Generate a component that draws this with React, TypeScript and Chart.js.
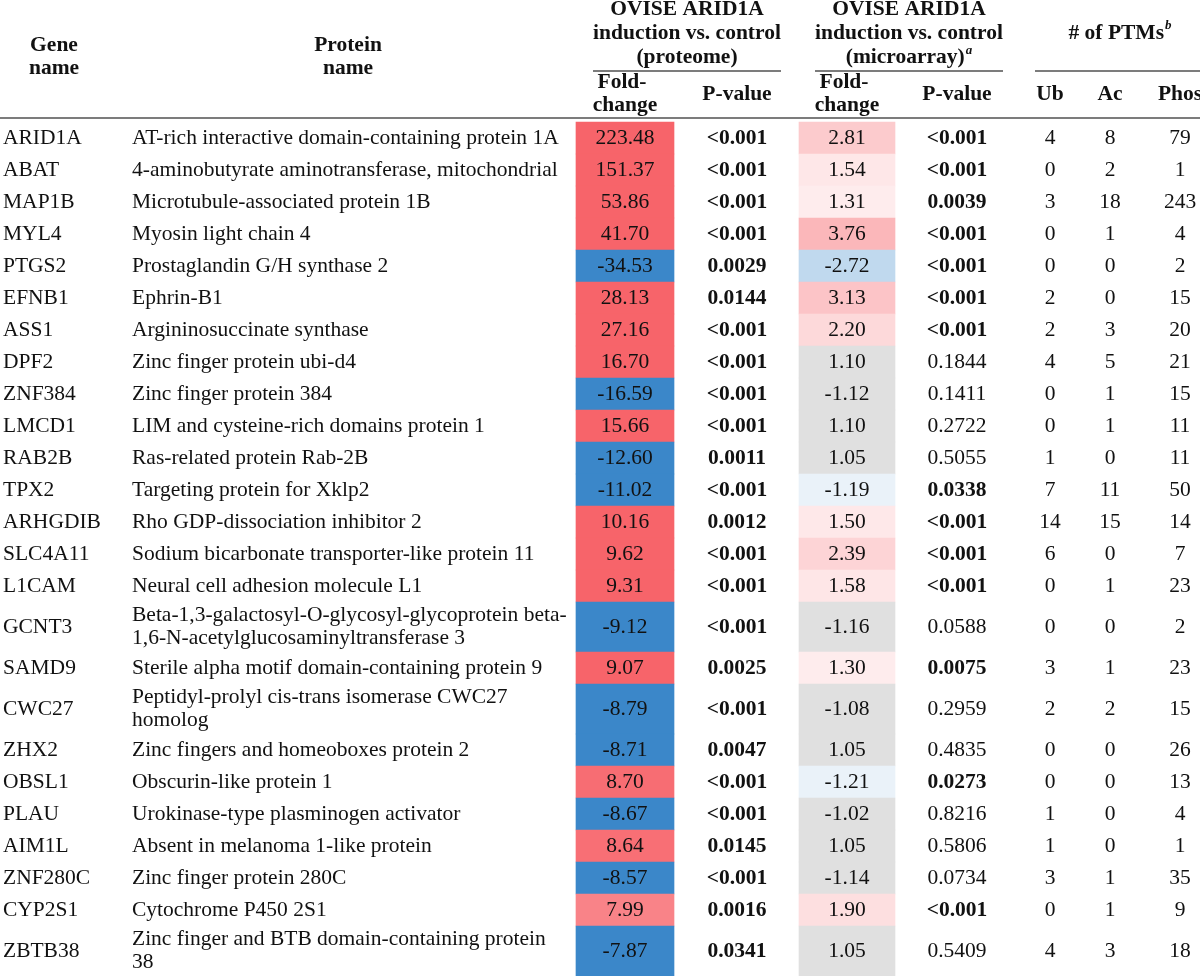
import React, { useEffect, useRef } from 'react';
import { Chart, registerables } from 'chart.js';

Chart.register(...registerables);

// ---------- DATA ----------
const genes = [
  'ARID1A', 'ABAT', 'MAP1B', 'MYL4', 'PTGS2', 'EFNB1', 'ASS1', 'DPF2', 'ZNF384', 'LMCD1',
  'RAB2B', 'TPX2', 'ARHGDIB', 'SLC4A11', 'L1CAM', 'GCNT3', 'SAMD9', 'CWC27', 'ZHX2', 'OBSL1',
  'PLAU', 'AIM1L', 'ZNF280C', 'CYP2S1', 'ZBTB38',
];

const proteins = [
  'AT-rich interactive domain-containing protein 1A',
  '4-aminobutyrate aminotransferase, mitochondrial',
  'Microtubule-associated protein 1B',
  'Myosin light chain 4',
  'Prostaglandin G/H synthase 2',
  'Ephrin-B1',
  'Argininosuccinate synthase',
  'Zinc finger protein ubi-d4',
  'Zinc finger protein 384',
  'LIM and cysteine-rich domains protein 1',
  'Ras-related protein Rab-2B',
  'Targeting protein for Xklp2',
  'Rho GDP-dissociation inhibitor 2',
  'Sodium bicarbonate transporter-like protein 11',
  'Neural cell adhesion molecule L1',
  'Beta-1,3-galactosyl-O-glycosyl-glycoprotein beta-\n1,6-N-acetylglucosaminyltransferase 3',
  'Sterile alpha motif domain-containing protein 9',
  'Peptidyl-prolyl cis-trans isomerase CWC27\nhomolog',
  'Zinc fingers and homeoboxes protein 2',
  'Obscurin-like protein 1',
  'Urokinase-type plasminogen activator',
  'Absent in melanoma 1-like protein',
  'Zinc finger protein 280C',
  'Cytochrome P450 2S1',
  'Zinc finger and BTB domain-containing protein\n38',
];

const foldProteome = [
  223.48, 151.37, 53.86, 41.70, -34.53, 28.13, 27.16, 16.70, -16.59, 15.66,
  -12.60, -11.02, 10.16, 9.62, 9.31, -9.12, 9.07, -8.79, -8.71, 8.70,
  -8.67, 8.64, -8.57, 7.99, -7.87,
];

const pProteome = [
  '<0.001', '<0.001', '<0.001', '<0.001', '0.0029', '0.0144', '<0.001', '<0.001', '<0.001', '<0.001',
  '0.0011', '<0.001', '0.0012', '<0.001', '<0.001', '<0.001', '0.0025', '<0.001', '0.0047', '<0.001',
  '<0.001', '0.0145', '<0.001', '0.0016', '0.0341',
];

const foldMicro = [
  2.81, 1.54, 1.31, 3.76, -2.72, 3.13, 2.20, 1.10, -1.12, 1.10,
  1.05, -1.19, 1.50, 2.39, 1.58, -1.16, 1.30, -1.08, 1.05, -1.21,
  -1.02, 1.05, -1.14, 1.90, 1.05,
];

const pMicro = [
  '<0.001', '<0.001', '0.0039', '<0.001', '<0.001', '<0.001', '<0.001', '0.1844', '0.1411', '0.2722',
  '0.5055', '0.0338', '<0.001', '<0.001', '<0.001', '0.0588', '0.0075', '0.2959', '0.4835', '0.0273',
  '0.8216', '0.5806', '0.0734', '<0.001', '0.5409',
];

const ptmUb = [4, 0, 3, 0, 0, 2, 2, 4, 0, 0, 1, 7, 14, 6, 0, 0, 3, 2, 0, 0, 1, 1, 3, 0, 4];
const ptmAc = [8, 2, 18, 1, 0, 0, 3, 5, 1, 1, 0, 11, 15, 0, 1, 0, 1, 2, 0, 0, 0, 0, 1, 1, 3];
const ptmPhos = [79, 1, 243, 4, 2, 15, 20, 21, 15, 11, 11, 50, 14, 7, 23, 2, 23, 15, 26, 13, 4, 1, 35, 9, 18];

// ---------- LAYOUT / STYLE ----------
const CANVAS_W = 1200;
const CANVAS_H = 976;
const HEADER_UNITS = 3.8125; // header band height in row units
const EXTRA_LINE_UNITS = 0.5625; // added height per extra text line
const LINE_GAP_UNITS = 0.36; // offset of wrapped lines from row centre

const COL = {
  gene: 3,
  protein: 132,
  fcP: 625,
  pP: 737,
  fcM: 847,
  pM: 957,
  ub: 1050,
  ac: 1110,
  phos: 1180,
};
const CELL_W = 98;

const SERIF = '"Liberation Serif", "Times New Roman", serif';
const BODY_FONT = `21.5px ${SERIF}`;
const BODY_BOLD = `bold 21.5px ${SERIF}`;
const HEAD_FONT = `bold 21.5px ${SERIF}`;
const SUP_FONT = `italic bold 13px ${SERIF}`;
const TEXT_COLOR = '#111111';
const RULE_COLOR = '#7c7c7c';

const RED = [247, 100, 106];
const BLUE = [59, 135, 201];
const GRAY = '#e0e0e0';

function mix(c: number[], t: number) {
  const k = Math.max(0, Math.min(1, t));
  const r = Math.round(255 + (c[0] - 255) * k);
  const g = Math.round(255 + (c[1] - 255) * k);
  const b = Math.round(255 + (c[2] - 255) * k);
  return `rgb(${r},${g},${b})`;
}

function isSig(p: string) {
  if (p.startsWith('<')) return true;
  return parseFloat(p) < 0.05;
}

function proteomeColor(v: number) {
  if (v < 0) return mix(BLUE, 1);
  return mix(RED, 1 - (9 - v) * 0.2);
}

function microColor(v: number, p: string) {
  if (!isSig(p)) return GRAY;
  const t = 0.08 + 0.14 * (Math.abs(v) - 1);
  return mix(v > 0 ? RED : BLUE, t);
}

// row geometry in row units
const rowUnits = proteins.map((p) => 1 + (p.split('\n').length - 1) * EXTRA_LINE_UNITS);
const rowTop: number[] = [];
{
  let acc = HEADER_UNITS;
  rowUnits.forEach((u) => {
    rowTop.push(acc);
    acc += u;
  });
}
const TOTAL_UNITS = HEADER_UNITS + rowUnits.reduce((a, b) => a + b, 0);

// header layout (row units)
const HDR = {
  groupL1: 0.28,
  groupL2: 1.03,
  groupL3: 1.81,
  groupRule: 2.22,
  subL1: 2.59,
  subL2: 3.28,
  subMid: 2.94,
  leftL1: 1.42,
  leftL2: 2.14,
  bottomRule: 3.69,
};

const tablePlugin = {
  id: 'tableText',
  afterDatasetsDraw(chart: any) {
    const ctx = chart.ctx as CanvasRenderingContext2D;
    const xs = chart.scales.x;
    const ys = chart.scales.y;
    const X = (v: number) => xs.getPixelForValue(v);
    const Y = (v: number) => ys.getPixelForValue(v);

    ctx.save();
    ctx.fillStyle = TEXT_COLOR;
    ctx.textBaseline = 'middle';

    const text = (s: string, x: number, y: number, font: string, align: CanvasTextAlign = 'center') => {
      ctx.font = font;
      ctx.textAlign = align;
      ctx.fillText(s, X(x), Y(y));
    };

    const textSup = (s: string, sup: string, x: number, y: number) => {
      ctx.font = HEAD_FONT;
      const w1 = ctx.measureText(s).width;
      ctx.font = SUP_FONT;
      const w2 = ctx.measureText(sup).width + 1;
      const left = X(x) - (w1 + w2) / 2;
      ctx.textAlign = 'left';
      ctx.font = HEAD_FONT;
      ctx.fillText(s, left, Y(y));
      ctx.font = SUP_FONT;
      ctx.fillText(sup, left + w1 + 1, Y(y) - 7);
    };

    const rule = (x0: number, x1: number, y: number) => {
      ctx.strokeStyle = RULE_COLOR;
      ctx.lineWidth = 2;
      ctx.beginPath();
      ctx.moveTo(X(x0), Y(y));
      ctx.lineTo(X(x1), Y(y));
      ctx.stroke();
    };

    // ---- header ----
    text('Gene', 54, HDR.leftL1, HEAD_FONT);
    text('name', 54, HDR.leftL2, HEAD_FONT);
    text('Protein', 348, HDR.leftL1, HEAD_FONT);
    text('name', 348, HDR.leftL2, HEAD_FONT);

    text('OVISE ARID1A', 687, HDR.groupL1, HEAD_FONT);
    text('induction vs. control', 687, HDR.groupL2, HEAD_FONT);
    text('(proteome)', 687, HDR.groupL3, HEAD_FONT);
    rule(593, 781, HDR.groupRule);

    text('OVISE ARID1A', 909, HDR.groupL1, HEAD_FONT);
    text('induction vs. control', 909, HDR.groupL2, HEAD_FONT);
    textSup('(microarray)', 'a', 909, HDR.groupL3);
    rule(815, 1003, HDR.groupRule);

    textSup('# of PTMs', 'b', 1120, HDR.groupL2);
    rule(1035, 1200, HDR.groupRule);

    text('Fold-', COL.fcP - 3, HDR.subL1, HEAD_FONT);
    text('change', COL.fcP, HDR.subL2, HEAD_FONT);
    text('P-value', COL.pP, HDR.subMid, HEAD_FONT);
    text('Fold-', COL.fcM - 3, HDR.subL1, HEAD_FONT);
    text('change', COL.fcM, HDR.subL2, HEAD_FONT);
    text('P-value', COL.pM, HDR.subMid, HEAD_FONT);
    text('Ub', COL.ub, HDR.subMid, HEAD_FONT);
    text('Ac', COL.ac, HDR.subMid, HEAD_FONT);
    text('Phos', COL.phos, HDR.subMid, HEAD_FONT);

    rule(0, 1200, HDR.bottomRule);

    // ---- body ----
    genes.forEach((g, i) => {
      const mid = rowTop[i] + rowUnits[i] / 2;
      text(g, COL.gene, mid, BODY_FONT, 'left');
      const lines = proteins[i].split('\n');
      lines.forEach((ln, k) => {
        const off = (k - (lines.length - 1) / 2) * 2 * LINE_GAP_UNITS;
        text(ln, COL.protein, mid + off, BODY_FONT, 'left');
      });
      text(foldProteome[i].toFixed(2), COL.fcP, mid, BODY_FONT);
      text(pProteome[i], COL.pP, mid, isSig(pProteome[i]) ? BODY_BOLD : BODY_FONT);
      text(foldMicro[i].toFixed(2), COL.fcM, mid, BODY_FONT);
      text(pMicro[i], COL.pM, mid, isSig(pMicro[i]) ? BODY_BOLD : BODY_FONT);
      text(String(ptmUb[i]), COL.ub, mid, BODY_FONT);
      text(String(ptmAc[i]), COL.ac, mid, BODY_FONT);
      text(String(ptmPhos[i]), COL.phos, mid, BODY_FONT);
    });

    ctx.restore();
  },
};

export default function App() {
  const ref = useRef<HTMLCanvasElement | null>(null);

  useEffect(() => {
    document.body.style.margin = '0';
    const canvas = ref.current;
    if (!canvas) return;

    const cellData = (col: number) =>
      genes.map((_, i) => ({ x: col, y: [rowTop[i], rowTop[i] + rowUnits[i]] }));

    const chart = new Chart(canvas, {
      type: 'bar',
      data: {
        datasets: [
          {
            label: 'Fold-change (proteome)',
            data: cellData(COL.fcP) as any,
            backgroundColor: foldProteome.map(proteomeColor),
            barThickness: CELL_W,
            grouped: false,
            borderWidth: 0,
          } as any,
          {
            label: 'Fold-change (microarray)',
            data: cellData(COL.fcM) as any,
            backgroundColor: foldMicro.map((v, i) => microColor(v, pMicro[i])),
            barThickness: CELL_W - 2,
            grouped: false,
            borderWidth: 0,
          } as any,
        ],
      },
      options: {
        responsive: false,
        maintainAspectRatio: false,
        animation: false,
        events: [],
        layout: { padding: 0 },
        plugins: {
          legend: { display: false },
          tooltip: { enabled: false },
          title: { display: false },
        },
        scales: {
          x: { type: 'linear', min: 0, max: CANVAS_W, offset: false, display: false },
          y: { type: 'linear', min: 0, max: TOTAL_UNITS, reverse: true, display: false },
        },
      },
      plugins: [tablePlugin],
    });

    return () => chart.destroy();
  }, []);

  return (
    <div style={{ width: CANVAS_W, height: CANVAS_H, background: '#fff' }}>
      <canvas ref={ref} width={CANVAS_W} height={CANVAS_H} />
    </div>
  );
}
